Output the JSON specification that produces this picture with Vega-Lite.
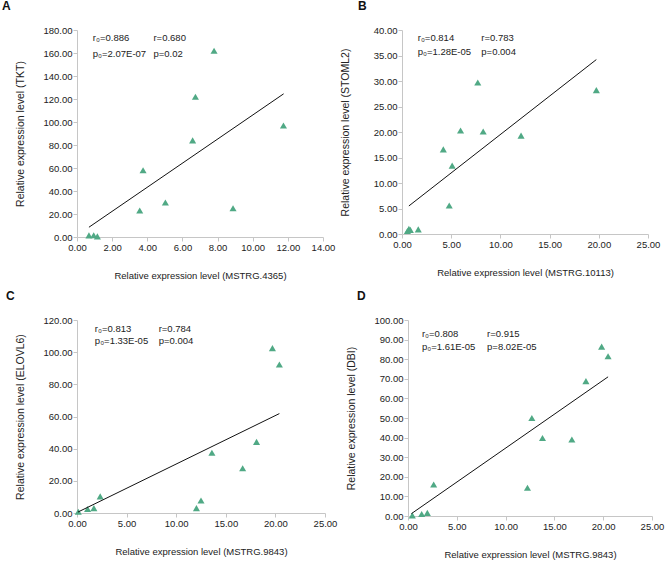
{
  "$schema": "https://vega.github.io/schema/vega-lite/v6.json",
  "padding": {"left": 2, "top": 0, "right": 4, "bottom": 2},
  "background": "white",
  "datasets": {
    "pts": [
      {"panel": "A", "x": 0.68, "y": 1.4}, {"panel": "A", "x": 0.95, "y": 1.5}, {"panel": "A", "x": 1.16, "y": 0.5},
      {"panel": "A", "x": 3.57, "y": 23}, {"panel": "A", "x": 3.76, "y": 58}, {"panel": "A", "x": 5.03, "y": 30},
      {"panel": "A", "x": 6.58, "y": 84}, {"panel": "A", "x": 6.74, "y": 122}, {"panel": "A", "x": 7.8, "y": 162},
      {"panel": "A", "x": 8.88, "y": 25}, {"panel": "A", "x": 11.75, "y": 97},
      {"panel": "B", "x": 0.55, "y": 0.6}, {"panel": "B", "x": 0.7, "y": 1.0}, {"panel": "B", "x": 0.85, "y": 0.8},
      {"panel": "B", "x": 1.65, "y": 0.9}, {"panel": "B", "x": 4.8, "y": 5.6}, {"panel": "B", "x": 4.2, "y": 16.6},
      {"panel": "B", "x": 5.1, "y": 13.4}, {"panel": "B", "x": 5.95, "y": 20.3}, {"panel": "B", "x": 7.7, "y": 29.7},
      {"panel": "B", "x": 8.25, "y": 20.1}, {"panel": "B", "x": 12.1, "y": 19.3}, {"panel": "B", "x": 19.75, "y": 28.2},
      {"panel": "C", "x": 0.13, "y": 0.8}, {"panel": "C", "x": 1.07, "y": 2.5}, {"panel": "C", "x": 1.7, "y": 3.0},
      {"panel": "C", "x": 2.34, "y": 10.3}, {"panel": "C", "x": 12.04, "y": 3.0}, {"panel": "C", "x": 12.5, "y": 7.8},
      {"panel": "C", "x": 13.6, "y": 37.5}, {"panel": "C", "x": 16.7, "y": 27.8}, {"panel": "C", "x": 18.1, "y": 44.2},
      {"panel": "C", "x": 19.7, "y": 102.5}, {"panel": "C", "x": 20.4, "y": 92.3},
      {"panel": "D", "x": 0.44, "y": 0.3}, {"panel": "D", "x": 1.4, "y": 1.0}, {"panel": "D", "x": 1.98, "y": 1.6},
      {"panel": "D", "x": 2.63, "y": 16.1}, {"panel": "D", "x": 12.24, "y": 14.4}, {"panel": "D", "x": 12.69, "y": 50},
      {"panel": "D", "x": 13.78, "y": 39.8}, {"panel": "D", "x": 16.79, "y": 39}, {"panel": "D", "x": 18.23, "y": 68.8},
      {"panel": "D", "x": 19.84, "y": 86.4}, {"panel": "D", "x": 20.5, "y": 81.5}
    ],
    "trend": [
      {"panel": "A", "x": 0.68, "y": 8.5}, {"panel": "A", "x": 11.76, "y": 124.5},
      {"panel": "B", "x": 0.7, "y": 5.5}, {"panel": "B", "x": 19.75, "y": 34.2},
      {"panel": "C", "x": 0.1, "y": 0.6}, {"panel": "C", "x": 20.4, "y": 61.8},
      {"panel": "D", "x": 0.35, "y": 1.2}, {"panel": "D", "x": 20.5, "y": 71}
    ],
    "ann": [
      {"panel": "A", "left": "r₀=0.886\np₀=2.07E-07", "right": "r=0.680\np=0.02"},
      {"panel": "B", "left": "r₀=0.814\np₀=1.28E-05", "right": "r=0.783\np=0.004"},
      {"panel": "C", "left": "r₀=0.813\np₀=1.33E-05", "right": "r=0.784\np=0.004"},
      {"panel": "D", "left": "r₀=0.808\np₀=1.61E-05", "right": "r=0.915\np=8.02E-05"}
    ]
  },
  "config": {
    "view": {"stroke": null},
    "font": "Liberation Sans",
    "axis": {
      "grid": false, "domainColor": "#c6c6c6", "tickColor": "#c6c6c6", "tickSize": 4,
      "labelFontSize": 9.5, "labelColor": "#222222", "labelPadding": 1, "labelFlush": false,
      "titleFontWeight": "normal", "titleColor": "#222222", "format": ".2f",
      "labelFont": "Liberation Sans", "titleFont": "Liberation Sans"
    },
    "axisX": {"titleFontSize": 9.5, "titleY": 33},
    "axisY": {"titleFontSize": 10.5, "titleX": -52},
    "text": {"font": "Liberation Sans", "fontSize": 9.5, "color": "#222222"},
    "title": {"anchor": "start", "frame": "group", "offset": 12, "fontSize": 12, "fontWeight": "bold", "font": "Liberation Sans", "color": "#111111"}
  },
  "spacing": 10,
  "vconcat": [
    {
      "spacing": 4,
      "hconcat": [
        {
          "title": {"text": "A", "dx": -75},
          "width": 246, "height": 207,
          "layer": [
            {"data": {"name": "pts"}, "transform": [{"filter": "datum.panel === 'A'"}],
             "mark": {"type": "point", "shape": "triangle-up", "filled": true, "size": 50, "color": "#50a985", "opacity": 1},
             "encoding": {
               "x": {"field": "x", "type": "quantitative", "scale": {"domain": [0, 14], "nice": false}, "axis": {"values": [0, 2, 4, 6, 8, 10, 12, 14], "tickCount": 50, "labelOverlap": false, "title": "Relative expression level (MSTRG.4365)"}},
               "y": {"field": "y", "type": "quantitative", "scale": {"domain": [0, 180], "nice": false}, "axis": {"values": [0, 20, 40, 60, 80, 100, 120, 140, 160, 180], "tickCount": 50, "labelOverlap": false, "title": "Relative expression level (TKT)"}}
             }},
            {"data": {"name": "trend"}, "transform": [{"filter": "datum.panel === 'A'"}],
             "mark": {"type": "line", "color": "#111111", "strokeWidth": 1},
             "encoding": {"x": {"field": "x", "type": "quantitative"}, "y": {"field": "y", "type": "quantitative"}}},
            {"data": {"name": "ann"}, "transform": [{"filter": "datum.panel === 'A'"}],
             "mark": {"type": "text", "align": "left", "baseline": "middle", "lineBreak": "\n", "lineHeight": 16},
             "encoding": {"x": {"datum": 0.9}, "y": {"datum": 173}, "text": {"field": "left"}}},
            {"data": {"name": "ann"}, "transform": [{"filter": "datum.panel === 'A'"}],
             "mark": {"type": "text", "align": "left", "baseline": "middle", "lineBreak": "\n", "lineHeight": 16},
             "encoding": {"x": {"datum": 4.35}, "y": {"datum": 173}, "text": {"field": "right"}}}
          ]
        },
        {
          "title": {"text": "B", "dx": -44},
          "width": 246, "height": 204,
          "layer": [
            {"data": {"name": "pts"}, "transform": [{"filter": "datum.panel === 'B'"}],
             "mark": {"type": "point", "shape": "triangle-up", "filled": true, "size": 50, "color": "#50a985", "opacity": 1},
             "encoding": {
               "x": {"field": "x", "type": "quantitative", "scale": {"domain": [0, 25], "nice": false}, "axis": {"values": [0, 5, 10, 15, 20, 25], "tickCount": 50, "labelOverlap": false, "title": "Relative expression level (MSTRG.10113)"}},
               "y": {"field": "y", "type": "quantitative", "scale": {"domain": [0, 40], "nice": false}, "axis": {"values": [0, 5, 10, 15, 20, 25, 30, 35, 40], "tickCount": 50, "labelOverlap": false, "title": "Relative expression level (STOML2)"}}
             }},
            {"data": {"name": "trend"}, "transform": [{"filter": "datum.panel === 'B'"}],
             "mark": {"type": "line", "color": "#111111", "strokeWidth": 1},
             "encoding": {"x": {"field": "x", "type": "quantitative"}, "y": {"field": "y", "type": "quantitative"}}},
            {"data": {"name": "ann"}, "transform": [{"filter": "datum.panel === 'B'"}],
             "mark": {"type": "text", "align": "left", "baseline": "middle", "lineBreak": "\n", "lineHeight": 14},
             "encoding": {"x": {"datum": 1.6}, "y": {"datum": 38.4}, "text": {"field": "left"}}},
            {"data": {"name": "ann"}, "transform": [{"filter": "datum.panel === 'B'"}],
             "mark": {"type": "text", "align": "left", "baseline": "middle", "lineBreak": "\n", "lineHeight": 14},
             "encoding": {"x": {"datum": 8.06}, "y": {"datum": 38.4}, "text": {"field": "right"}}}
          ]
        }
      ]
    },
    {
      "spacing": 8,
      "hconcat": [
        {
          "title": {"text": "C", "dx": -71},
          "width": 248, "height": 193,
          "layer": [
            {"data": {"name": "pts"}, "transform": [{"filter": "datum.panel === 'C'"}],
             "mark": {"type": "point", "shape": "triangle-up", "filled": true, "size": 50, "color": "#50a985", "opacity": 1},
             "encoding": {
               "x": {"field": "x", "type": "quantitative", "scale": {"domain": [0, 25], "nice": false}, "axis": {"values": [0, 5, 10, 15, 20, 25], "tickCount": 50, "labelOverlap": false, "title": "Relative expression level (MSTRG.9843)"}},
               "y": {"field": "y", "type": "quantitative", "scale": {"domain": [0, 120], "nice": false}, "axis": {"values": [0, 20, 40, 60, 80, 100, 120], "tickCount": 50, "labelOverlap": false, "title": "Relative expression level (ELOVL6)"}}
             }},
            {"data": {"name": "trend"}, "transform": [{"filter": "datum.panel === 'C'"}],
             "mark": {"type": "line", "color": "#111111", "strokeWidth": 1},
             "encoding": {"x": {"field": "x", "type": "quantitative"}, "y": {"field": "y", "type": "quantitative"}}},
            {"data": {"name": "ann"}, "transform": [{"filter": "datum.panel === 'C'"}],
             "mark": {"type": "text", "align": "left", "baseline": "middle", "lineBreak": "\n", "lineHeight": 12},
             "encoding": {"x": {"datum": 1.8}, "y": {"datum": 114.1}, "text": {"field": "left"}}},
            {"data": {"name": "ann"}, "transform": [{"filter": "datum.panel === 'C'"}],
             "mark": {"type": "text", "align": "left", "baseline": "middle", "lineBreak": "\n", "lineHeight": 12},
             "encoding": {"x": {"datum": 8.23}, "y": {"datum": 114.1}, "text": {"field": "right"}}}
          ]
        },
        {
          "title": {"text": "D", "dx": -51},
          "width": 244, "height": 196,
          "layer": [
            {"data": {"name": "pts"}, "transform": [{"filter": "datum.panel === 'D'"}],
             "mark": {"type": "point", "shape": "triangle-up", "filled": true, "size": 50, "color": "#50a985", "opacity": 1},
             "encoding": {
               "x": {"field": "x", "type": "quantitative", "scale": {"domain": [0, 25], "nice": false}, "axis": {"values": [0, 5, 10, 15, 20, 25], "tickCount": 50, "labelOverlap": false, "title": "Relative expression level (MSTRG.9843)"}},
               "y": {"field": "y", "type": "quantitative", "scale": {"domain": [0, 100], "nice": false}, "axis": {"values": [0, 10, 20, 30, 40, 50, 60, 70, 80, 90, 100], "tickCount": 50, "labelOverlap": false, "title": "Relative expression level (DBI)"}}
             }},
            {"data": {"name": "trend"}, "transform": [{"filter": "datum.panel === 'D'"}],
             "mark": {"type": "line", "color": "#111111", "strokeWidth": 1},
             "encoding": {"x": {"field": "x", "type": "quantitative"}, "y": {"field": "y", "type": "quantitative"}}},
            {"data": {"name": "ann"}, "transform": [{"filter": "datum.panel === 'D'"}],
             "mark": {"type": "text", "align": "left", "baseline": "middle", "lineBreak": "\n", "lineHeight": 13},
             "encoding": {"x": {"datum": 1.43}, "y": {"datum": 93.1}, "text": {"field": "left"}}},
            {"data": {"name": "ann"}, "transform": [{"filter": "datum.panel === 'D'"}],
             "mark": {"type": "text", "align": "left", "baseline": "middle", "lineBreak": "\n", "lineHeight": 13},
             "encoding": {"x": {"datum": 8.1}, "y": {"datum": 93.1}, "text": {"field": "right"}}}
          ]
        }
      ]
    }
  ]
}
